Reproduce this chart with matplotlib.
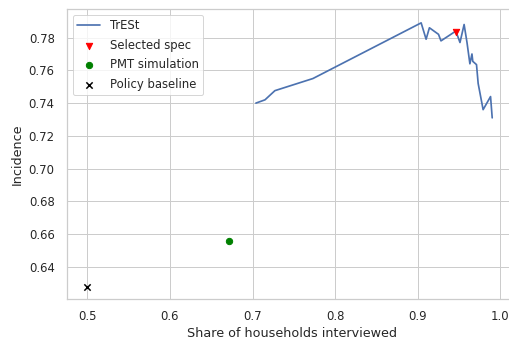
import matplotlib
matplotlib.use("Agg")
import matplotlib.pyplot as plt
import seaborn as sns

# TrESt curve: share interviewed vs incidence
share = [0.704, 0.715, 0.727, 0.773, 0.904, 0.910, 0.914, 0.925, 0.928,
         0.946, 0.951, 0.956, 0.9595, 0.963, 0.9655, 0.9665, 0.971, 0.973,
         0.979, 0.988, 0.990]
incidence = [0.740, 0.742, 0.7476, 0.755, 0.789, 0.779, 0.786, 0.782, 0.778,
             0.784, 0.777, 0.788, 0.777, 0.764, 0.770, 0.7655, 0.7635, 0.752,
             0.736, 0.744, 0.731]

selected_x, selected_y = 0.946, 0.7837
pmt_x, pmt_y = 0.671, 0.6557
baseline_x, baseline_y = 0.5, 0.628

sns.set_theme(style="whitegrid", font_scale=1.06)

fig = plt.figure(figsize=(509 / 72, 340 / 72), dpi=72)
ax = fig.add_axes([0.131, 0.1197, 0.8847, 0.854])

ax.plot(share, incidence, lw=1.7, label="TrESt")
ax.scatter([selected_x], [selected_y], marker="v", s=40, color="red", label="Selected spec", zorder=3)
ax.scatter([pmt_x], [pmt_y], marker="o", s=40, color="green", label="PMT simulation", zorder=3)
ax.scatter([baseline_x], [baseline_y], marker="x", s=40, color="black", label="Policy baseline", zorder=3)

ax.set_xlim(0.475, 1.02)
ax.set_ylim(0.6202, 0.7975)
ax.tick_params(axis="x", pad=5)
ax.tick_params(axis="y", pad=6)
ax.set_xlabel("Share of households interviewed", labelpad=4)
ax.set_ylabel("Incidence", labelpad=5)
ax.legend(loc="upper left", labelspacing=0.55)

fig.savefig("out.png", dpi=72)
